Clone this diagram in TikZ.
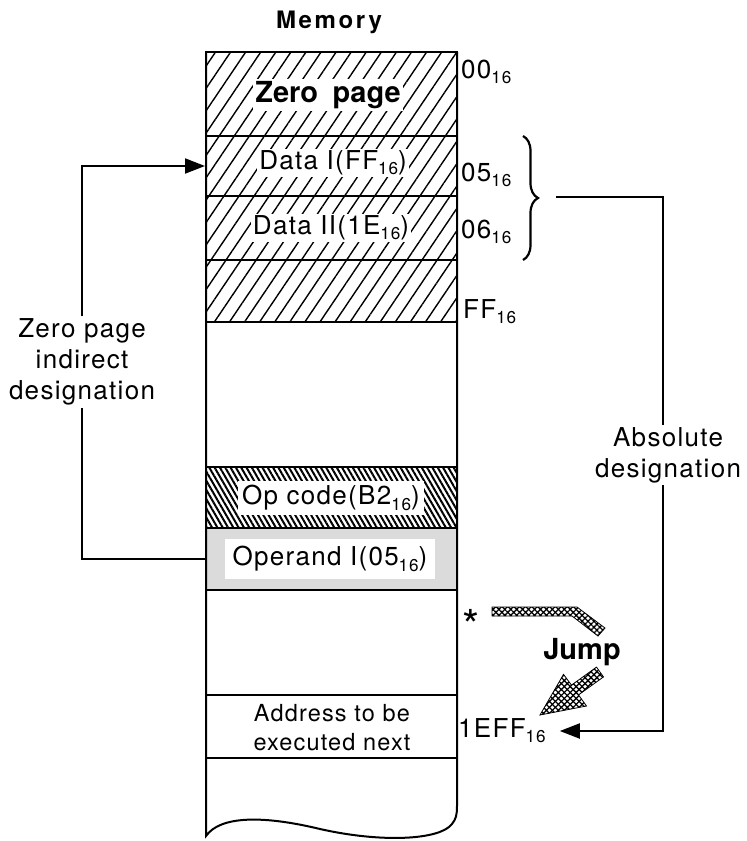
\documentclass[tikz,border=0pt]{standalone}
\usepackage{fontspec}
\setmainfont{TeX Gyre Heros}
\newfontfamily\widefont{TeX Gyre Heros}[LetterSpace=5]
\newfontfamily\titlefont{TeX Gyre Heros}[LetterSpace=11]
\usetikzlibrary{patterns.meta,arrows.meta,decorations.pathreplacing}
\newcommand\hsub[1]{\raisebox{-0.2em}{\scalebox{0.66}{#1}}}
\begin{document}
\begin{tikzpicture}[x=1pt,y=-1pt,
  row/.style={draw, line width=2pt, minimum width=251pt, inner sep=0pt},
  hatchA/.style={pattern={Lines[angle=56,distance=12.5pt,line width=1.4pt]}},
  hatchB/.style={pattern={Lines[angle=-60,distance=4.6pt,line width=2pt]}},
  dotted gray/.style={fill=black!14},
  txt/.style={font=\widefont\fontsize{26}{31}\selectfont, inner sep=2pt},
  boxtxt/.style={txt, fill=white},
  conn/.style={line width=2pt},
  arr/.style={conn, -{Triangle[length=20pt,width=15pt]}},
  xhatch/.style={pattern={Lines[angle=45,distance=4.2pt,line width=1.3pt]}},
  yhatch/.style={pattern={Lines[angle=-45,distance=4.2pt,line width=1.3pt]}}
]
\useasboundingbox (0,0) rectangle (747,841);

% title
\node[font=\titlefont\fontsize{24}{28}\selectfont\bfseries] (title) at (329,22) {Memory};

% memory rows
\node[row, hatchA, minimum height=84pt] (zp) at (331.5,94) {};
\node[row, hatchA, minimum height=60pt] (d1) at (331.5,166) {};
\node[row, hatchA, minimum height=64pt] (d2) at (331.5,228) {};
\node[row, hatchA, minimum height=62pt] (hb) at (331.5,291) {};
\node[row, hatchB, minimum height=61pt] (op) at (331.5,497.5) {};
\node[row, dotted gray, minimum height=62pt] (opd) at (331.5,559) {};
\node[row, minimum height=63pt] (addr) at (331.5,726.5) {};

% memory outline with torn bottom
\draw[line width=2pt] (206,52) -- (206,836)
  .. controls (220,816) and (262,815) .. (320,829)
  .. controls (382,843) and (440,840) .. (452,824)
  .. controls (456,819) and (457,815) .. (457,806) -- (457,52);

% row texts
\node[boxtxt, font=\fontsize{29}{34}\selectfont\bfseries] (tzp) at (328,95) {Zero\hspace{0.5em}page};
\node[boxtxt] (td1) at (333,163) {Data I(FF\hsub{16})};
\node[boxtxt] (td2) at (331,228) {Data II(1E\hsub{16})};
\node[boxtxt, inner xsep=4pt, inner ysep=4pt] (top) at (331,498) {Op code(B2\hsub{16})};
\node[boxtxt, inner xsep=8pt, inner ysep=7pt] (topd) at (330,559) {Operand I(05\hsub{16})};
\node[txt, align=center, font=\widefont\fontsize{23.5}{29}\selectfont] (taddr) at (332,728) {Address to be\\executed next};

% address labels
\node[txt, anchor=west] (l00) at (459,72) {00\hsub{16}};
\node[txt, anchor=west] (l05) at (459,175) {05\hsub{16}};
\node[txt, anchor=west] (l06) at (459,232) {06\hsub{16}};
\node[txt, anchor=west] (lff) at (461,312) {FF\hsub{16}};
\node[txt, anchor=west] (l1eff) at (456,731) {1EFF\hsub{16}};

% brace
\draw[line width=2.2pt, decorate, decoration={brace, amplitude=15pt}] (523,136) -- (523,260);
\coordinate (bt) at (556,197);

% side labels
\node[txt, align=center] (zpi) at (82,362) {Zero page\\indirect\\designation};
\node[txt, align=center] (absn) at (668,455) {Absolute\\designation};

% connectors
\draw[conn] (opd.west) -| (zpi.south);
\draw[arr] (zpi.north) |- (d1.west);
\coordinate (abstop) at ([xshift=-5pt]absn.north);
\coordinate (absbot) at ([xshift=-5pt]absn.south);
\coordinate (tipc) at ([xshift=12pt]l1eff.east);
\draw[conn] (bt) -| (abstop);
\draw[arr] (absbot) |- (tipc);

% jump
\node[font=\fontsize{44}{46}\selectfont] (star) at (471,625) {*};
\node[font=\fontsize{29}{32}\selectfont\bfseries] (jump) at (582,652) {Jump};
\foreach \p in {xhatch,yhatch}{
  \fill[\p] (492,607) -- (577,607) -- (605,628) -- (598,636) -- (572,616) -- (492,616) -- cycle;
  \fill[\p] (596.5,667.1) -- (603.5,676.9) -- (578.5,694.9) -- (586.5,706) -- (540,715) -- (563.5,674.4) -- (571.5,685.1) -- cycle;
}
\draw[line width=0.8pt] (492,607) -- (577,607) -- (605,628) -- (598,636) -- (572,616) -- (492,616) -- cycle;
\draw[line width=0.8pt] (596.5,667.1) -- (603.5,676.9) -- (578.5,694.9) -- (586.5,706) -- (540,715) -- (563.5,674.4) -- (571.5,685.1) -- cycle;
\end{tikzpicture}
\end{document}
